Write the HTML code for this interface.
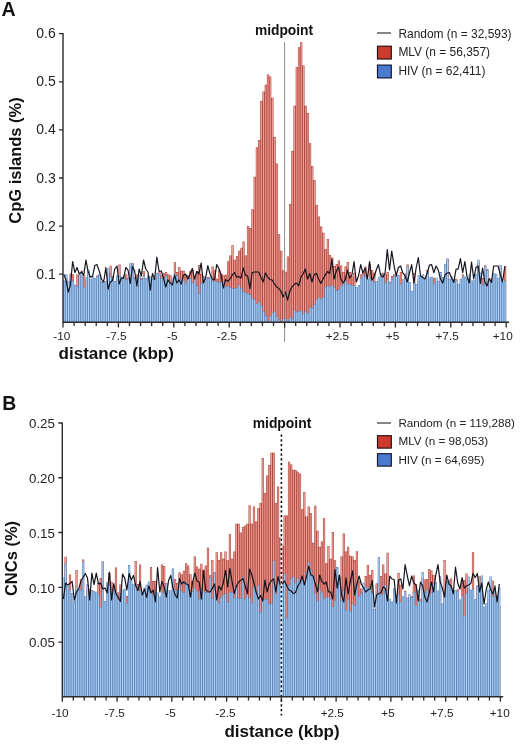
<!DOCTYPE html>
<html><head><meta charset="utf-8"><title>Figure</title>
<style>html,body{margin:0;padding:0;background:#fff}body{width:520px;height:746px;overflow:hidden;font-family:"Liberation Sans",sans-serif}</style></head>
<body>
<svg width="520" height="746" viewBox="0 0 520 746" style="display:block;will-change:transform;font-family:'Liberation Sans',sans-serif">
<path d="M63 322.3V281.09H65.22V278.11H67.43V283.1H69.65V273.4H71.86V274.2H74.08V291.68H76.3V274.2H78.51V275.15H80.73V270.8H82.94V275.16H85.16V280.36H87.38V272.7H89.59V285.66H91.81V278.18H94.02V280.24H96.24V275.56H98.46V275.04H100.67V281.48H102.89V283.77H105.1V283.26H107.32V272.87H109.54V265.69H111.75V275.91H113.97V283.94H116.18V277.45H118.4V264.58H120.62V282.58H122.83V277.09H125.05V274.15H127.26V277.83H129.48V264.57H131.7V263.32H133.91V276.9H136.13V274.51H138.34V276.66H140.56V278.31H142.78V271.34H144.99V277.96H147.21V276.46H149.42V277.71H151.64V284.64H153.86V277.88H156.07V274.2H158.29V272.14H160.5V275.16H162.72V273.16H164.94V271.99H167.15V274.2H169.37V275.18H171.58V280.49H173.8V262.18H176.02V271.99H178.23V266.99H180.45V270.83H182.66V270.83H184.88V274.68H187.1V275.16H189.31V270.91H191.53V269.87H193.74V277.25H195.96V270.98H198.18V265.06H200.39V274.09H202.61V276.12H204.82V285.24H207.04V277.09H209.26V279.65H211.47V266.55H213.69V270.13H215.9V278.76H218.12V269.87H220.34V273.61H222.55V275.16H224.77V274.68H226.98V261.21H229.2V255.44H231.42V245.34H233.63V259.77H235.85V255.92H238.06V250.63H240.28V247.75H242.5V241.49H244.71V255.44H246.93V226.1H249.14V228.02H251.36V209.27H253.58V176.8H255.79V147.22H258.01V140H260.22V101.04H262.44V91.42H264.66V84.69H266.87V74.59H269.09V76.51H271.3V97.67H273.52V137.12H275.74V163.57H277.95V234.28H280.17V250.63H282.38V270.35H284.6V271.8H286.82V256.4H289.03V203.97H291.25V151.06H293.46V105.85H295.68V66.89H297.9V47.17H300.11V42.36H302.33V65.45H304.54V105.85H306.76V113.07H308.98V143.37H311.19V165.97H313.41V179.92H315.62V204.94H317.84V216.48H320.06V226.58H322.27V232.83H324.49V249.19H326.7V239.09H328.92V254.96H331.14V257.51H333.35V266.02H335.57V264.1H337.78V260.49H340V265.54H342.22V271.99H344.43V266.5H346.65V261.98H348.86V271.99H351.08V276.61H353.3V272.76H355.51V288.63H357.73V293.76H359.94V274.39H362.16V271.47H364.38V266.5H366.59V280.75H368.81V264.1H371.02V270.02H373.24V272.76H375.46V283.31H377.67V280.4H379.89V274.2H382.1V272.64H384.32V274.2H386.54V271.99H388.75V281.8H390.97V275.95H393.18V274.16H395.4V284.81H397.62V279.52H399.83V271.99H402.05V282.87H404.26V273.39H406.48V264.54H408.7V286.07H410.91V293.44H413.13V273H415.34V286.26H417.56V280.22H419.78V277.41H421.99V279.26H424.21V284.34H426.42V269.76H428.64V278.5H430.86V277.9H433.07V278.05H435.29V280.9H437.5V285.11H439.72V272.18H441.94V279.65H444.15V265.78H446.37V259.08H448.58V280.12H450.8V281.2H453.02V285.13H455.23V278.65H457.45V286.85H459.66V283.16H461.88V274.39H464.1V279.33H466.31V281.27H468.53V277.89H470.74V287.18H472.96V287.55H475.18V274.47H477.39V262.61H479.61V277.33H481.82V278.05H484.04V265.53H486.26V269.34H488.47V289.46H490.69V278.2H492.9V279.99H495.12V277.46H497.34V282.27H499.55V268.23H501.77V288.11H503.98V266.02H506.2V322.3Z" fill="#ab4a41"/><g fill="#f49d95"><rect x="63.55" y="281.64" width="1.12" height="40.66"/><rect x="65.77" y="278.66" width="1.12" height="43.64"/><rect x="67.98" y="283.65" width="1.12" height="38.65"/><rect x="70.2" y="273.95" width="1.12" height="48.35"/><rect x="72.41" y="274.75" width="1.12" height="47.55"/><rect x="74.63" y="292.23" width="1.12" height="30.07"/><rect x="76.85" y="274.75" width="1.12" height="47.55"/><rect x="79.06" y="275.7" width="1.12" height="46.6"/><rect x="81.28" y="271.35" width="1.12" height="50.95"/><rect x="83.49" y="275.71" width="1.12" height="46.59"/><rect x="85.71" y="280.91" width="1.12" height="41.39"/><rect x="87.93" y="273.25" width="1.12" height="49.05"/><rect x="90.14" y="286.21" width="1.12" height="36.09"/><rect x="92.36" y="278.73" width="1.12" height="43.57"/><rect x="94.57" y="280.79" width="1.12" height="41.51"/><rect x="96.79" y="276.11" width="1.12" height="46.19"/><rect x="99.01" y="275.59" width="1.12" height="46.71"/><rect x="101.22" y="282.03" width="1.12" height="40.27"/><rect x="103.44" y="284.32" width="1.12" height="37.98"/><rect x="105.65" y="283.81" width="1.12" height="38.49"/><rect x="107.87" y="273.42" width="1.12" height="48.88"/><rect x="110.09" y="266.24" width="1.12" height="56.06"/><rect x="112.3" y="276.46" width="1.12" height="45.84"/><rect x="114.52" y="284.49" width="1.12" height="37.81"/><rect x="116.73" y="278" width="1.12" height="44.3"/><rect x="118.95" y="265.13" width="1.12" height="57.17"/><rect x="121.17" y="283.13" width="1.12" height="39.17"/><rect x="123.38" y="277.64" width="1.12" height="44.66"/><rect x="125.6" y="274.7" width="1.12" height="47.6"/><rect x="127.81" y="278.38" width="1.12" height="43.92"/><rect x="130.03" y="265.12" width="1.12" height="57.18"/><rect x="132.25" y="263.87" width="1.12" height="58.43"/><rect x="134.46" y="277.45" width="1.12" height="44.85"/><rect x="136.68" y="275.06" width="1.12" height="47.24"/><rect x="138.89" y="277.21" width="1.12" height="45.09"/><rect x="141.11" y="278.86" width="1.12" height="43.44"/><rect x="143.33" y="271.89" width="1.12" height="50.41"/><rect x="145.54" y="278.51" width="1.12" height="43.79"/><rect x="147.76" y="277.01" width="1.12" height="45.29"/><rect x="149.97" y="278.26" width="1.12" height="44.04"/><rect x="152.19" y="285.19" width="1.12" height="37.11"/><rect x="154.41" y="278.43" width="1.12" height="43.87"/><rect x="156.62" y="274.75" width="1.12" height="47.55"/><rect x="158.84" y="272.69" width="1.12" height="49.61"/><rect x="161.05" y="275.71" width="1.12" height="46.59"/><rect x="163.27" y="273.71" width="1.12" height="48.59"/><rect x="165.49" y="272.54" width="1.12" height="49.76"/><rect x="167.7" y="274.75" width="1.12" height="47.55"/><rect x="169.92" y="275.73" width="1.12" height="46.57"/><rect x="172.13" y="281.04" width="1.12" height="41.26"/><rect x="174.35" y="262.73" width="1.12" height="59.58"/><rect x="176.57" y="272.54" width="1.12" height="49.76"/><rect x="178.78" y="267.54" width="1.12" height="54.77"/><rect x="181" y="271.38" width="1.12" height="50.92"/><rect x="183.21" y="271.38" width="1.12" height="50.92"/><rect x="185.43" y="275.23" width="1.12" height="47.07"/><rect x="187.65" y="275.71" width="1.12" height="46.59"/><rect x="189.86" y="271.46" width="1.12" height="50.84"/><rect x="192.08" y="270.42" width="1.12" height="51.88"/><rect x="194.29" y="277.8" width="1.12" height="44.5"/><rect x="196.51" y="271.53" width="1.12" height="50.77"/><rect x="198.73" y="265.61" width="1.12" height="56.69"/><rect x="200.94" y="274.64" width="1.12" height="47.66"/><rect x="203.16" y="276.67" width="1.12" height="45.63"/><rect x="205.37" y="285.79" width="1.12" height="36.51"/><rect x="207.59" y="277.64" width="1.12" height="44.66"/><rect x="209.81" y="280.2" width="1.12" height="42.1"/><rect x="212.02" y="267.1" width="1.12" height="55.2"/><rect x="214.24" y="270.68" width="1.12" height="51.62"/><rect x="216.45" y="279.31" width="1.12" height="42.99"/><rect x="218.67" y="270.42" width="1.12" height="51.88"/><rect x="220.89" y="274.16" width="1.12" height="48.14"/><rect x="223.1" y="275.71" width="1.12" height="46.59"/><rect x="225.32" y="275.23" width="1.12" height="47.07"/><rect x="227.53" y="261.76" width="1.12" height="60.54"/><rect x="229.75" y="255.99" width="1.12" height="66.31"/><rect x="231.97" y="245.89" width="1.12" height="76.41"/><rect x="234.18" y="260.32" width="1.12" height="61.98"/><rect x="236.4" y="256.47" width="1.12" height="65.83"/><rect x="238.61" y="251.18" width="1.12" height="71.12"/><rect x="240.83" y="248.3" width="1.12" height="74"/><rect x="243.05" y="242.04" width="1.12" height="80.26"/><rect x="245.26" y="255.99" width="1.12" height="66.31"/><rect x="247.48" y="226.65" width="1.12" height="95.65"/><rect x="249.69" y="228.57" width="1.12" height="93.73"/><rect x="251.91" y="209.82" width="1.12" height="112.48"/><rect x="254.13" y="177.35" width="1.12" height="144.95"/><rect x="256.34" y="147.77" width="1.12" height="174.53"/><rect x="258.56" y="140.55" width="1.12" height="181.75"/><rect x="260.77" y="101.59" width="1.12" height="220.71"/><rect x="262.99" y="91.97" width="1.12" height="230.33"/><rect x="265.21" y="85.24" width="1.12" height="237.06"/><rect x="267.42" y="75.14" width="1.12" height="247.16"/><rect x="269.64" y="77.06" width="1.12" height="245.24"/><rect x="271.85" y="98.22" width="1.12" height="224.08"/><rect x="274.07" y="137.67" width="1.12" height="184.63"/><rect x="276.29" y="164.12" width="1.12" height="158.18"/><rect x="278.5" y="234.83" width="1.12" height="87.47"/><rect x="280.72" y="251.18" width="1.12" height="71.12"/><rect x="282.93" y="270.9" width="1.12" height="51.4"/><rect x="285.15" y="272.35" width="1.12" height="49.95"/><rect x="287.37" y="256.95" width="1.12" height="65.35"/><rect x="289.58" y="204.52" width="1.12" height="117.78"/><rect x="291.8" y="151.61" width="1.12" height="170.69"/><rect x="294.01" y="106.4" width="1.12" height="215.9"/><rect x="296.23" y="67.44" width="1.12" height="254.86"/><rect x="298.45" y="47.72" width="1.12" height="274.58"/><rect x="300.66" y="42.91" width="1.12" height="279.39"/><rect x="302.88" y="66" width="1.12" height="256.3"/><rect x="305.09" y="106.4" width="1.12" height="215.9"/><rect x="307.31" y="113.62" width="1.12" height="208.68"/><rect x="309.53" y="143.92" width="1.12" height="178.38"/><rect x="311.74" y="166.53" width="1.12" height="155.78"/><rect x="313.96" y="180.47" width="1.12" height="141.83"/><rect x="316.17" y="205.49" width="1.12" height="116.81"/><rect x="318.39" y="217.03" width="1.12" height="105.27"/><rect x="320.61" y="227.13" width="1.12" height="95.17"/><rect x="322.82" y="233.38" width="1.12" height="88.92"/><rect x="325.04" y="249.74" width="1.12" height="72.56"/><rect x="327.25" y="239.64" width="1.12" height="82.66"/><rect x="329.47" y="255.51" width="1.12" height="66.79"/><rect x="331.69" y="258.06" width="1.12" height="64.24"/><rect x="333.9" y="266.57" width="1.12" height="55.73"/><rect x="336.12" y="264.65" width="1.12" height="57.65"/><rect x="338.33" y="261.04" width="1.12" height="61.26"/><rect x="340.55" y="266.09" width="1.12" height="56.21"/><rect x="342.77" y="272.54" width="1.12" height="49.76"/><rect x="344.98" y="267.05" width="1.12" height="55.25"/><rect x="347.2" y="262.53" width="1.12" height="59.77"/><rect x="349.41" y="272.54" width="1.12" height="49.76"/><rect x="351.63" y="277.16" width="1.12" height="45.15"/><rect x="353.85" y="273.31" width="1.12" height="48.99"/><rect x="356.06" y="289.18" width="1.12" height="33.12"/><rect x="358.28" y="294.31" width="1.12" height="27.99"/><rect x="360.49" y="274.94" width="1.12" height="47.36"/><rect x="362.71" y="272.02" width="1.12" height="50.28"/><rect x="364.93" y="267.05" width="1.12" height="55.25"/><rect x="367.14" y="281.3" width="1.12" height="41"/><rect x="369.36" y="264.65" width="1.12" height="57.65"/><rect x="371.57" y="270.57" width="1.12" height="51.73"/><rect x="373.79" y="273.31" width="1.12" height="48.99"/><rect x="376.01" y="283.86" width="1.12" height="38.44"/><rect x="378.22" y="280.95" width="1.12" height="41.35"/><rect x="380.44" y="274.75" width="1.12" height="47.55"/><rect x="382.65" y="273.19" width="1.12" height="49.11"/><rect x="384.87" y="274.75" width="1.12" height="47.55"/><rect x="387.09" y="272.54" width="1.12" height="49.76"/><rect x="389.3" y="282.35" width="1.12" height="39.95"/><rect x="391.52" y="276.5" width="1.12" height="45.8"/><rect x="393.73" y="274.71" width="1.12" height="47.59"/><rect x="395.95" y="285.36" width="1.12" height="36.94"/><rect x="398.17" y="280.07" width="1.12" height="42.23"/><rect x="400.38" y="272.54" width="1.12" height="49.76"/><rect x="402.6" y="283.42" width="1.12" height="38.88"/><rect x="404.81" y="273.94" width="1.12" height="48.36"/><rect x="407.03" y="265.09" width="1.12" height="57.21"/><rect x="409.25" y="286.62" width="1.12" height="35.68"/><rect x="411.46" y="293.99" width="1.12" height="28.31"/><rect x="413.68" y="273.55" width="1.12" height="48.75"/><rect x="415.89" y="286.81" width="1.12" height="35.49"/><rect x="418.11" y="280.77" width="1.12" height="41.53"/><rect x="420.33" y="277.96" width="1.12" height="44.34"/><rect x="422.54" y="279.81" width="1.12" height="42.49"/><rect x="424.76" y="284.89" width="1.12" height="37.41"/><rect x="426.97" y="270.31" width="1.12" height="51.99"/><rect x="429.19" y="279.05" width="1.12" height="43.25"/><rect x="431.41" y="278.45" width="1.12" height="43.85"/><rect x="433.62" y="278.6" width="1.12" height="43.7"/><rect x="435.84" y="281.45" width="1.12" height="40.85"/><rect x="438.05" y="285.66" width="1.12" height="36.64"/><rect x="440.27" y="272.73" width="1.12" height="49.57"/><rect x="442.49" y="280.2" width="1.12" height="42.1"/><rect x="444.7" y="266.33" width="1.12" height="55.97"/><rect x="446.92" y="259.63" width="1.12" height="62.67"/><rect x="449.13" y="280.67" width="1.12" height="41.63"/><rect x="451.35" y="281.75" width="1.12" height="40.55"/><rect x="453.57" y="285.68" width="1.12" height="36.62"/><rect x="455.78" y="279.2" width="1.12" height="43.1"/><rect x="458" y="287.4" width="1.12" height="34.9"/><rect x="460.21" y="283.71" width="1.12" height="38.59"/><rect x="462.43" y="274.94" width="1.12" height="47.36"/><rect x="464.65" y="279.88" width="1.12" height="42.42"/><rect x="466.86" y="281.82" width="1.12" height="40.48"/><rect x="469.08" y="278.44" width="1.12" height="43.86"/><rect x="471.29" y="287.73" width="1.12" height="34.57"/><rect x="473.51" y="288.1" width="1.12" height="34.2"/><rect x="475.73" y="275.02" width="1.12" height="47.28"/><rect x="477.94" y="263.16" width="1.12" height="59.14"/><rect x="480.16" y="277.88" width="1.12" height="44.42"/><rect x="482.37" y="278.6" width="1.12" height="43.7"/><rect x="484.59" y="266.08" width="1.12" height="56.22"/><rect x="486.81" y="269.89" width="1.12" height="52.41"/><rect x="489.02" y="290.01" width="1.12" height="32.29"/><rect x="491.24" y="278.75" width="1.12" height="43.55"/><rect x="493.45" y="280.54" width="1.12" height="41.76"/><rect x="495.67" y="278.01" width="1.12" height="44.29"/><rect x="497.89" y="282.82" width="1.12" height="39.48"/><rect x="500.1" y="268.78" width="1.12" height="53.52"/><rect x="502.32" y="288.66" width="1.12" height="33.64"/><rect x="504.53" y="266.57" width="1.12" height="55.73"/></g>
<path d="M63 322.3V280.62H65.22V274.21H67.43V280.92H69.65V275.71H71.86V280.6H74.08V284.78H76.3V286.23H78.51V275.05H80.73V272.66H82.94V287.19H85.16V277.38H87.38V269.67H89.59V279.35H91.81V276.81H94.02V278.08H96.24V276.3H98.46V273.92H100.67V282.25H102.89V281.18H105.1V281.34H107.32V267.95H109.54V276.47H111.75V277.23H113.97V280.91H116.18V275.17H118.4V276.02H120.62V276.79H122.83V275.46H125.05V279.43H127.26V278.54H129.48V262.66H131.7V265.06H133.91V278.82H136.13V277.44H138.34V275.28H140.56V279.34H142.78V275.73H144.99V278.17H147.21V275.62H149.42V276.48H151.64V278.81H153.86V278.23H156.07V272.72H158.29V274.27H160.5V278.21H162.72V278.44H164.94V275.33H167.15V281.4H169.37V282.46H171.58V277.65H173.8V273.43H176.02V275.33H178.23V279.94H180.45V278.28H182.66V280.09H184.88V283H187.1V277.23H189.31V278.41H191.53V282.65H193.74V278.16H195.96V285.62H198.18V293.44H200.39V283.07H202.61V275.98H204.82V278.58H207.04V278.13H209.26V276.64H211.47V281.05H213.69V280.04H215.9V281.53H218.12V282.58H220.34V281.58H222.55V282.9H224.77V286.69H226.98V285.81H229.2V287.11H231.42V288.44H233.63V288.26H235.85V287.67H238.06V284.13H240.28V288.03H242.5V291.52H244.71V292.43H246.93V293.54H249.14V294.49H251.36V297.98H253.58V299.71H255.79V303.42H258.01V301.23H260.22V305.05H262.44V311.01H264.66V315.78H266.87V321.2H269.09V315.8H271.3V312.38H273.52V311.46H275.74V316.17H277.95V319.57H280.17V321.34H282.38V318.34H284.6V318.66H286.82V320.45H289.03V317.07H291.25V318.85H293.46V309.94H295.68V311.79H297.9V311.01H300.11V310.53H302.33V313.68H304.54V311.1H306.76V313.48H308.98V307.25H311.19V308.07H313.41V304.37H315.62V299.38H317.84V296.84H320.06V298.75H322.27V297.1H324.49V286.88H326.7V285.48H328.92V286.69H331.14V284.82H333.35V287.23H335.57V290.35H337.78V289.13H340V285.86H342.22V284.75H344.43V280.85H346.65V283.94H348.86V284.02H351.08V285.24H353.3V285.68H355.51V287.19H357.73V284.99H359.94V278H362.16V274.67H364.38V276.36H366.59V279.16H368.81V278.17H371.02V280.29H373.24V281.97H375.46V281.37H377.67V276.65H379.89V272.96H382.1V275.4H384.32V282.86H386.54V279.45H388.75V282.77H390.97V279.07H393.18V276.11H395.4V274.88H397.62V275.01H399.83V283.82H402.05V279.27H404.26V274.87H406.48V266.5H408.7V281.88H410.91V291.04H413.13V282.86H415.34V283.94H417.56V275.35H419.78V276.38H421.99V274.18H424.21V279.48H426.42V272.03H428.64V277.44H430.86V276.76H433.07V283.82H435.29V277.69H437.5V280.71H439.72V272.32H441.94V276.9H444.15V264.1H446.37V258.52H448.58V278.95H450.8V276.39H453.02V279.36H455.23V280.15H457.45V283.9H459.66V278.85H461.88V276.8H464.1V276.87H466.31V278.85H468.53V274.45H470.74V280.39H472.96V280.28H475.18V273.91H477.39V259.77H479.61V272.87H481.82V284.78H484.04V266.5H486.26V270.5H488.47V281.55H490.69V279.76H492.9V273.35H495.12V274.06H497.34V278.22H499.55V265.06H501.77V282.33H503.98V280.65H506.2V322.3Z" fill="#5e87b8"/><g fill="#add1f8"><rect x="63.55" y="281.17" width="1.12" height="41.13"/><rect x="65.77" y="274.76" width="1.12" height="47.54"/><rect x="67.98" y="281.47" width="1.12" height="40.83"/><rect x="70.2" y="276.26" width="1.12" height="46.04"/><rect x="72.41" y="281.15" width="1.12" height="41.15"/><rect x="74.63" y="285.33" width="1.12" height="36.97"/><rect x="76.85" y="286.78" width="1.12" height="35.52"/><rect x="79.06" y="275.6" width="1.12" height="46.7"/><rect x="81.28" y="273.21" width="1.12" height="49.09"/><rect x="83.49" y="287.74" width="1.12" height="34.56"/><rect x="85.71" y="277.93" width="1.12" height="44.37"/><rect x="87.93" y="270.22" width="1.12" height="52.08"/><rect x="90.14" y="279.9" width="1.12" height="42.4"/><rect x="92.36" y="277.36" width="1.12" height="44.94"/><rect x="94.57" y="278.63" width="1.12" height="43.67"/><rect x="96.79" y="276.85" width="1.12" height="45.45"/><rect x="99.01" y="274.47" width="1.12" height="47.83"/><rect x="101.22" y="282.8" width="1.12" height="39.5"/><rect x="103.44" y="281.73" width="1.12" height="40.57"/><rect x="105.65" y="281.89" width="1.12" height="40.41"/><rect x="107.87" y="268.5" width="1.12" height="53.8"/><rect x="110.09" y="277.02" width="1.12" height="45.28"/><rect x="112.3" y="277.78" width="1.12" height="44.52"/><rect x="114.52" y="281.46" width="1.12" height="40.84"/><rect x="116.73" y="275.72" width="1.12" height="46.58"/><rect x="118.95" y="276.57" width="1.12" height="45.73"/><rect x="121.17" y="277.34" width="1.12" height="44.96"/><rect x="123.38" y="276.01" width="1.12" height="46.29"/><rect x="125.6" y="279.98" width="1.12" height="42.32"/><rect x="127.81" y="279.09" width="1.12" height="43.21"/><rect x="130.03" y="263.21" width="1.12" height="59.09"/><rect x="132.25" y="265.61" width="1.12" height="56.69"/><rect x="134.46" y="279.37" width="1.12" height="42.93"/><rect x="136.68" y="277.99" width="1.12" height="44.31"/><rect x="138.89" y="275.83" width="1.12" height="46.47"/><rect x="141.11" y="279.89" width="1.12" height="42.41"/><rect x="143.33" y="276.28" width="1.12" height="46.02"/><rect x="145.54" y="278.72" width="1.12" height="43.58"/><rect x="147.76" y="276.17" width="1.12" height="46.13"/><rect x="149.97" y="277.03" width="1.12" height="45.27"/><rect x="152.19" y="279.36" width="1.12" height="42.94"/><rect x="154.41" y="278.78" width="1.12" height="43.52"/><rect x="156.62" y="273.27" width="1.12" height="49.03"/><rect x="158.84" y="274.82" width="1.12" height="47.48"/><rect x="161.05" y="278.76" width="1.12" height="43.54"/><rect x="163.27" y="278.99" width="1.12" height="43.31"/><rect x="165.49" y="275.88" width="1.12" height="46.42"/><rect x="167.7" y="281.95" width="1.12" height="40.35"/><rect x="169.92" y="283.01" width="1.12" height="39.29"/><rect x="172.13" y="278.2" width="1.12" height="44.1"/><rect x="174.35" y="273.98" width="1.12" height="48.32"/><rect x="176.57" y="275.88" width="1.12" height="46.42"/><rect x="178.78" y="280.49" width="1.12" height="41.81"/><rect x="181" y="278.83" width="1.12" height="43.47"/><rect x="183.21" y="280.64" width="1.12" height="41.66"/><rect x="185.43" y="283.55" width="1.12" height="38.75"/><rect x="187.65" y="277.78" width="1.12" height="44.52"/><rect x="189.86" y="278.96" width="1.12" height="43.34"/><rect x="192.08" y="283.2" width="1.12" height="39.1"/><rect x="194.29" y="278.71" width="1.12" height="43.59"/><rect x="196.51" y="286.17" width="1.12" height="36.13"/><rect x="198.73" y="293.99" width="1.12" height="28.31"/><rect x="200.94" y="283.62" width="1.12" height="38.68"/><rect x="203.16" y="276.53" width="1.12" height="45.77"/><rect x="205.37" y="279.13" width="1.12" height="43.17"/><rect x="207.59" y="278.68" width="1.12" height="43.62"/><rect x="209.81" y="277.19" width="1.12" height="45.11"/><rect x="212.02" y="281.6" width="1.12" height="40.7"/><rect x="214.24" y="280.59" width="1.12" height="41.71"/><rect x="216.45" y="282.08" width="1.12" height="40.22"/><rect x="218.67" y="283.13" width="1.12" height="39.17"/><rect x="220.89" y="282.13" width="1.12" height="40.17"/><rect x="223.1" y="283.45" width="1.12" height="38.85"/><rect x="225.32" y="287.24" width="1.12" height="35.06"/><rect x="227.53" y="286.36" width="1.12" height="35.94"/><rect x="229.75" y="287.66" width="1.12" height="34.64"/><rect x="231.97" y="288.99" width="1.12" height="33.31"/><rect x="234.18" y="288.81" width="1.12" height="33.49"/><rect x="236.4" y="288.22" width="1.12" height="34.08"/><rect x="238.61" y="284.68" width="1.12" height="37.62"/><rect x="240.83" y="288.58" width="1.12" height="33.72"/><rect x="243.05" y="292.07" width="1.12" height="30.23"/><rect x="245.26" y="292.98" width="1.12" height="29.32"/><rect x="247.48" y="294.09" width="1.12" height="28.21"/><rect x="249.69" y="295.04" width="1.12" height="27.26"/><rect x="251.91" y="298.53" width="1.12" height="23.77"/><rect x="254.13" y="300.26" width="1.12" height="22.04"/><rect x="256.34" y="303.97" width="1.12" height="18.33"/><rect x="258.56" y="301.78" width="1.12" height="20.52"/><rect x="260.77" y="305.6" width="1.12" height="16.7"/><rect x="262.99" y="311.56" width="1.12" height="10.74"/><rect x="265.21" y="316.33" width="1.12" height="5.97"/><rect x="267.42" y="321.75" width="1.12" height="0.55"/><rect x="269.64" y="316.35" width="1.12" height="5.95"/><rect x="271.85" y="312.93" width="1.12" height="9.37"/><rect x="274.07" y="312.01" width="1.12" height="10.29"/><rect x="276.29" y="316.72" width="1.12" height="5.58"/><rect x="278.5" y="320.12" width="1.12" height="2.18"/><rect x="280.72" y="321.89" width="1.12" height="0.41"/><rect x="282.93" y="318.89" width="1.12" height="3.41"/><rect x="285.15" y="319.21" width="1.12" height="3.09"/><rect x="287.37" y="321" width="1.12" height="1.3"/><rect x="289.58" y="317.62" width="1.12" height="4.68"/><rect x="291.8" y="319.4" width="1.12" height="2.9"/><rect x="294.01" y="310.49" width="1.12" height="11.81"/><rect x="296.23" y="312.34" width="1.12" height="9.96"/><rect x="298.45" y="311.56" width="1.12" height="10.74"/><rect x="300.66" y="311.08" width="1.12" height="11.22"/><rect x="302.88" y="314.23" width="1.12" height="8.07"/><rect x="305.09" y="311.65" width="1.12" height="10.65"/><rect x="307.31" y="314.03" width="1.12" height="8.27"/><rect x="309.53" y="307.8" width="1.12" height="14.5"/><rect x="311.74" y="308.62" width="1.12" height="13.68"/><rect x="313.96" y="304.92" width="1.12" height="17.38"/><rect x="316.17" y="299.93" width="1.12" height="22.37"/><rect x="318.39" y="297.39" width="1.12" height="24.91"/><rect x="320.61" y="299.3" width="1.12" height="23"/><rect x="322.82" y="297.65" width="1.12" height="24.65"/><rect x="325.04" y="287.43" width="1.12" height="34.87"/><rect x="327.25" y="286.03" width="1.12" height="36.27"/><rect x="329.47" y="287.24" width="1.12" height="35.06"/><rect x="331.69" y="285.37" width="1.12" height="36.93"/><rect x="333.9" y="287.78" width="1.12" height="34.52"/><rect x="336.12" y="290.9" width="1.12" height="31.4"/><rect x="338.33" y="289.68" width="1.12" height="32.62"/><rect x="340.55" y="286.41" width="1.12" height="35.89"/><rect x="342.77" y="285.3" width="1.12" height="37"/><rect x="344.98" y="281.4" width="1.12" height="40.9"/><rect x="347.2" y="284.49" width="1.12" height="37.81"/><rect x="349.41" y="284.57" width="1.12" height="37.73"/><rect x="351.63" y="285.79" width="1.12" height="36.51"/><rect x="353.85" y="286.23" width="1.12" height="36.07"/><rect x="356.06" y="287.74" width="1.12" height="34.56"/><rect x="358.28" y="285.54" width="1.12" height="36.76"/><rect x="360.49" y="278.55" width="1.12" height="43.75"/><rect x="362.71" y="275.22" width="1.12" height="47.08"/><rect x="364.93" y="276.91" width="1.12" height="45.39"/><rect x="367.14" y="279.71" width="1.12" height="42.59"/><rect x="369.36" y="278.72" width="1.12" height="43.58"/><rect x="371.57" y="280.84" width="1.12" height="41.46"/><rect x="373.79" y="282.52" width="1.12" height="39.78"/><rect x="376.01" y="281.92" width="1.12" height="40.38"/><rect x="378.22" y="277.2" width="1.12" height="45.1"/><rect x="380.44" y="273.51" width="1.12" height="48.79"/><rect x="382.65" y="275.95" width="1.12" height="46.35"/><rect x="384.87" y="283.41" width="1.12" height="38.89"/><rect x="387.09" y="280" width="1.12" height="42.3"/><rect x="389.3" y="283.32" width="1.12" height="38.98"/><rect x="391.52" y="279.62" width="1.12" height="42.68"/><rect x="393.73" y="276.66" width="1.12" height="45.64"/><rect x="395.95" y="275.43" width="1.12" height="46.87"/><rect x="398.17" y="275.56" width="1.12" height="46.74"/><rect x="400.38" y="284.37" width="1.12" height="37.93"/><rect x="402.6" y="279.82" width="1.12" height="42.48"/><rect x="404.81" y="275.42" width="1.12" height="46.88"/><rect x="407.03" y="267.05" width="1.12" height="55.25"/><rect x="409.25" y="282.43" width="1.12" height="39.87"/><rect x="411.46" y="291.59" width="1.12" height="30.71"/><rect x="413.68" y="283.41" width="1.12" height="38.89"/><rect x="415.89" y="284.49" width="1.12" height="37.81"/><rect x="418.11" y="275.9" width="1.12" height="46.4"/><rect x="420.33" y="276.93" width="1.12" height="45.37"/><rect x="422.54" y="274.73" width="1.12" height="47.57"/><rect x="424.76" y="280.03" width="1.12" height="42.27"/><rect x="426.97" y="272.58" width="1.12" height="49.72"/><rect x="429.19" y="277.99" width="1.12" height="44.31"/><rect x="431.41" y="277.31" width="1.12" height="44.99"/><rect x="433.62" y="284.37" width="1.12" height="37.93"/><rect x="435.84" y="278.24" width="1.12" height="44.06"/><rect x="438.05" y="281.26" width="1.12" height="41.04"/><rect x="440.27" y="272.87" width="1.12" height="49.43"/><rect x="442.49" y="277.45" width="1.12" height="44.85"/><rect x="444.7" y="264.65" width="1.12" height="57.65"/><rect x="446.92" y="259.07" width="1.12" height="63.23"/><rect x="449.13" y="279.5" width="1.12" height="42.8"/><rect x="451.35" y="276.94" width="1.12" height="45.36"/><rect x="453.57" y="279.91" width="1.12" height="42.39"/><rect x="455.78" y="280.7" width="1.12" height="41.6"/><rect x="458" y="284.45" width="1.12" height="37.85"/><rect x="460.21" y="279.4" width="1.12" height="42.9"/><rect x="462.43" y="277.35" width="1.12" height="44.95"/><rect x="464.65" y="277.42" width="1.12" height="44.88"/><rect x="466.86" y="279.4" width="1.12" height="42.9"/><rect x="469.08" y="275" width="1.12" height="47.3"/><rect x="471.29" y="280.94" width="1.12" height="41.36"/><rect x="473.51" y="280.83" width="1.12" height="41.47"/><rect x="475.73" y="274.46" width="1.12" height="47.84"/><rect x="477.94" y="260.32" width="1.12" height="61.98"/><rect x="480.16" y="273.42" width="1.12" height="48.88"/><rect x="482.37" y="285.33" width="1.12" height="36.97"/><rect x="484.59" y="267.05" width="1.12" height="55.25"/><rect x="486.81" y="271.05" width="1.12" height="51.25"/><rect x="489.02" y="282.1" width="1.12" height="40.2"/><rect x="491.24" y="280.31" width="1.12" height="41.99"/><rect x="493.45" y="273.9" width="1.12" height="48.4"/><rect x="495.67" y="274.61" width="1.12" height="47.69"/><rect x="497.89" y="278.77" width="1.12" height="43.53"/><rect x="500.1" y="265.61" width="1.12" height="56.69"/><rect x="502.32" y="282.88" width="1.12" height="39.42"/><rect x="504.53" y="281.2" width="1.12" height="41.1"/></g>
<polyline points="63.78,274.2 65.99,279.97 68.21,292 70.42,285.02 72.64,261.5 74.86,272.52 77.07,267.47 79.29,274.01 81.5,271.99 83.72,275.16 85.94,260.01 88.15,271.8 90.37,277.09 92.58,276.12 94.8,265.54 97.02,264.58 99.23,270.83 101.45,279.01 103.66,281.99 105.88,267.47 108.1,289.11 110.31,281.99 112.53,280.45 114.74,269.01 116.96,266.02 119.18,284.01 121.39,278.05 123.61,278.05 125.82,267.47 128.04,270.02 130.26,283.48 132.47,266.5 134.69,270.98 136.9,285.98 139.12,269.01 141.34,275.98 143.55,260.01 145.77,269.01 147.98,271.99 150.2,290.07 152.42,273.48 154.63,279.49 156.85,256.98 159.06,271.51 161.28,270.98 163.5,278.05 165.71,286.99 167.93,279.97 170.14,283 172.36,285.02 174.58,275.16 176.79,283 179.01,279.97 181.22,284.01 183.44,275.16 185.66,274.01 187.87,279.01 190.09,274.01 192.3,268.43 194.52,279.01 196.74,271.51 198.95,274.01 201.17,262.99 203.38,283 205.6,278.05 207.82,265.54 210.03,274.01 212.25,279.01 214.46,279.97 216.68,264.58 218.9,268.43 221.11,275.16 223.33,288 225.54,279.49 227.76,281.42 229.98,279.01 232.19,275.16 234.41,272.52 236.62,277.09 238.84,276.61 241.06,278.05 243.27,267.95 245.49,275.16 247.7,276.12 249.92,288.63 252.14,272.52 254.35,271.99 256.57,271.99 258.78,271.99 261,277.57 263.22,281.99 265.43,273 267.65,277.09 269.86,279.49 272.08,279.97 274.3,283.82 276.51,286.71 278.73,288.39 280.94,291.04 283.16,297 285.38,292 287.59,299.98 289.81,291.04 292.02,286.99 294.24,284.3 296.46,283 298.67,285.98 300.89,277.09 303.1,274.01 305.32,269.01 307.54,279.01 309.75,273.48 311.97,281.99 314.18,274.49 316.4,273.48 318.62,279.01 320.83,283.48 323.05,279.01 325.26,275.16 327.48,271.51 329.7,273.48 331.91,259 334.13,279.01 336.34,270.98 338.56,266.99 340.78,279.01 342.99,283 345.21,279.97 347.42,270.02 349.64,278.05 351.86,275.16 354.07,261.5 356.29,281.99 358.5,275.98 360.72,264.58 362.94,273 365.15,268 367.37,279.01 369.58,261.5 371.8,279.97 374.02,277.09 376.23,270.02 378.45,264.58 380.66,275.16 382.88,277.09 385.1,273 387.31,249.48 389.53,270.02 391.74,251.11 393.96,265.06 396.18,275.98 398.39,267.47 400.61,265.97 402.82,273 405.04,275.98 407.26,281.99 409.47,273 411.69,264.58 413.9,283 416.12,268 418.34,257.51 420.55,275.98 422.77,277.57 424.98,279.01 427.2,273 429.42,265.06 431.63,264.58 433.85,272.52 436.06,266.02 438.28,270.02 440.5,279.01 442.71,283 444.93,275.16 447.14,273 449.36,272.52 451.58,278.05 453.79,282.47 456.01,269.39 458.22,268.91 460.44,258.52 462.66,272.52 464.87,261.5 467.09,277.09 469.3,283 471.52,261.98 473.74,279.01 475.95,267.47 478.17,266.02 480.38,283.48 482.6,268 484.82,281.99 487.03,285.98 489.25,278.53 491.46,282.47 493.68,266.02 495.9,266.02 498.11,266.02 500.33,274.49 502.54,281.99 504.76,266.5" fill="none" stroke="#15151f" stroke-width="1.2" stroke-linejoin="round"/>
<line x1="284.6" y1="42" x2="284.6" y2="342" stroke="#7a7a7a" stroke-width="0.85"/>
<path d="M63.0 33V322.3H509.2" fill="none" stroke="#2b2b2b" stroke-width="1.4"/>
<path d="M63.0 274.2h-4M63.0 226.1h-4M63.0 178h-4M63.0 129.9h-4M63.0 81.8h-4M63.0 33.7h-4M63 322.3v5.2M74.08 322.3v3.6M85.16 322.3v3.6M96.24 322.3v3.6M107.32 322.3v3.6M118.4 322.3v5.2M129.48 322.3v3.6M140.56 322.3v3.6M151.64 322.3v3.6M162.72 322.3v3.6M173.8 322.3v5.2M184.88 322.3v3.6M195.96 322.3v3.6M207.04 322.3v3.6M218.12 322.3v3.6M229.2 322.3v5.2M240.28 322.3v3.6M251.36 322.3v3.6M262.44 322.3v3.6M273.52 322.3v3.6M284.6 322.3v5.2M295.68 322.3v3.6M306.76 322.3v3.6M317.84 322.3v3.6M328.92 322.3v3.6M340 322.3v5.2M351.08 322.3v3.6M362.16 322.3v3.6M373.24 322.3v3.6M384.32 322.3v3.6M395.4 322.3v5.2M406.48 322.3v3.6M417.56 322.3v3.6M428.64 322.3v3.6M439.72 322.3v3.6M450.8 322.3v5.2M461.88 322.3v3.6M472.96 322.3v3.6M484.04 322.3v3.6M495.12 322.3v3.6M506.2 322.3v5.2" stroke="#2b2b2b" stroke-width="1.3" fill="none"/>
<text x="55.7" y="278.7" font-size="14" text-anchor="end" fill="#222">0.1</text>
<text x="55.7" y="230.6" font-size="14" text-anchor="end" fill="#222">0.2</text>
<text x="55.7" y="182.5" font-size="14" text-anchor="end" fill="#222">0.3</text>
<text x="55.7" y="134.4" font-size="14" text-anchor="end" fill="#222">0.4</text>
<text x="55.7" y="86.3" font-size="14" text-anchor="end" fill="#222">0.5</text>
<text x="55.7" y="38.2" font-size="14" text-anchor="end" fill="#222">0.6</text>
<text x="61.8" y="340" font-size="11.8" text-anchor="middle" fill="#222">-10</text>
<text x="116.5" y="340" font-size="11.8" text-anchor="middle" fill="#222">-7.5</text>
<text x="172.3" y="340" font-size="11.8" text-anchor="middle" fill="#222">-5</text>
<text x="226.9" y="340" font-size="11.8" text-anchor="middle" fill="#222">-2.5</text>
<text x="337.4" y="340" font-size="11.8" text-anchor="middle" fill="#222">+2.5</text>
<text x="392.6" y="340" font-size="11.8" text-anchor="middle" fill="#222">+5</text>
<text x="447.1" y="340" font-size="11.8" text-anchor="middle" fill="#222">+7.5</text>
<text x="502.7" y="340" font-size="11.8" text-anchor="middle" fill="#222">+10</text>
<text x="1.6" y="16.2" font-size="19.6" font-weight="bold" fill="#111">A</text>
<text x="284" y="34.8" font-size="13.8" font-weight="bold" text-anchor="middle" fill="#111">midpoint</text>
<text x="58.6" y="359.2" font-size="17" font-weight="bold" fill="#111">distance (kbp)</text>
<text transform="translate(20.8 160.5) rotate(-90)" font-size="16.5" font-weight="bold" text-anchor="middle" fill="#111">CpG islands (%)</text>
<line x1="377" y1="33" x2="391" y2="33" stroke="#222" stroke-width="1.1"/>
<rect x="377.5" y="46.2" width="13.8" height="12.8" fill="#cc3b2e" stroke="#2a1212" stroke-width="1.2"/>
<rect x="377.5" y="65.1" width="13.8" height="12.8" fill="#4a7bd0" stroke="#141a38" stroke-width="1.2"/>
<text x="398.4" y="37.6" font-size="11.95" fill="#222">Random (n = 32,593)</text>
<text x="398.4" y="56.4" font-size="11.95" fill="#222">MLV (n = 56,357)</text>
<text x="398.4" y="75.2" font-size="11.95" fill="#222">HIV (n = 62,411)</text>
<path d="M62.3 696.8V590.58H64.49V556.65H66.68V593.63H68.87V574.47H71.06V594.28H73.25V601.52H75.44V569.98H77.63V606.61H79.82V579.14H82.01V559.41H84.2V606.37H86.4V589.17H88.59V589.21H90.78V590.26H92.97V605.69H95.16V599.26H97.35V582.81H99.54V577.97H101.73V561.82H103.92V606.08H106.11V589.8H108.3V573.04H110.49V581.66H112.68V588.73H114.87V567.57H117.06V592.42H119.25V584.52H121.44V594.64H123.63V601.24H125.82V596.06H128.01V571.78H130.21V584.75H132.4V588.86H134.59V561H136.78V584.12H138.97V564.5H141.16V597.01H143.35V597.32H145.54V593.48H147.73V594.98H149.92V567.02H152.11V581.04H154.3V581.04H156.49V594.34H158.68V597.74H160.87V564.5H163.06V566.03H165.25V583.28H167.44V599.61H169.63V603.21H171.82V570.09H174.02V578.96H176.21V583.01H178.4V572.14H180.59V574.14H182.78V570.85H184.97V563.19H187.16V565.38H189.35V574.14H191.54V580.71H193.73V556.61H195.92V566.47H198.11V568.66H200.3V563.73H202.49V569.76H204.68V565.38H206.87V547.85H209.06V575.23H211.25V559.9H213.44V572.39H215.63V552.23H217.83V559.9H220.02V552.23H222.21V558.8H224.4V551.47H226.59V560.23H228.78V534.16H230.97V558.8H233.16V551.47H235.35V523.76H237.54V523.76H239.73V532.52H241.92V527.04H244.11V525.4H246.3V523.76H248.49V505.14H250.68V523.76H252.87V506.56H255.06V521.57H257.25V507.88H259.44V502.95H261.64V458.05H263.83V493.09H266.02V475.57H268.21V464.95H270.4V452.79H272.59V452.79H274.78V502.95H276.97V486.52H279.16V537.45H281.35V545.66H283.54V515.43H285.73V515.43H287.92V461.66H290.11V464.4H292.3V469.77H294.49V470.09H296.68V471.63H298.87V473.38H301.06V509.19H303.25V492H305.45V516.53H307.64V506.56H309.83V513.35H312.02V542.81H314.21V505.8H316.4V530.77H318.59V546.76H320.78V541.5H322.97V518.28H325.16V563.19H327.35V546.1H329.54V558.8H331.73V532.08H333.92V560.23H336.11V567.02H338.3V577.75H340.49V556.61H342.68V533.62H344.87V551.47H347.06V546.76H349.26V555.74H351.45V556.61H353.64V559.9H355.83V551.14H358.02V580.71H360.21V588.38H362.4V591.66H364.59V576H366.78V565.05H368.97V575.01H371.16V569.98H373.35V609.18H375.54V583.56H377.73V581.8H379.92V576H382.11V564.5H384.3V573.48H386.49V552.67H388.68V606.45H390.87V602.61H393.07V592.06H395.26V611.42H397.45V573.04H399.64V584.72H401.83V597.99H404.02V590.79H406.21V608.23H408.4V622.16H410.59V596.2H412.78V575.45H414.97V583.99H417.16V596.33H419.35V598.7H421.54V577.76H423.73V579.39H425.92V578.96H428.11V568.99H430.3V570.52H432.49V575.01H434.68V604.16H436.88V591.49H439.07V582.5H441.26V603.71H443.45V560.01H445.64V581.38H447.83V580.21H450.02V578.46H452.21V609.85H454.4V604.63H456.59V589.22H458.78V615.89H460.97V580.18H463.16V580.05H465.35V573.48H467.54V588.07H469.73V618.14H471.92V552.23H474.11V600.42H476.3V585.54H478.49V576.33H480.69V585.16H482.88V611.87H485.07V621.54H487.26V598.05H489.45V589.47H491.64V580.79H493.83V589.34H496.02V600.88H498.21V606.12H500.4V696.8Z" fill="#ab4a41"/><g fill="#f49d95"><rect x="62.85" y="591.13" width="1.09" height="105.67"/><rect x="65.04" y="557.2" width="1.09" height="139.6"/><rect x="67.23" y="594.18" width="1.09" height="102.62"/><rect x="69.42" y="575.02" width="1.09" height="121.78"/><rect x="71.61" y="594.83" width="1.09" height="101.97"/><rect x="73.8" y="602.07" width="1.09" height="94.73"/><rect x="75.99" y="570.53" width="1.09" height="126.27"/><rect x="78.18" y="607.16" width="1.09" height="89.64"/><rect x="80.37" y="579.69" width="1.09" height="117.11"/><rect x="82.56" y="559.96" width="1.09" height="136.84"/><rect x="84.75" y="606.92" width="1.09" height="89.88"/><rect x="86.95" y="589.72" width="1.09" height="107.08"/><rect x="89.14" y="589.76" width="1.09" height="107.04"/><rect x="91.33" y="590.81" width="1.09" height="105.99"/><rect x="93.52" y="606.24" width="1.09" height="90.56"/><rect x="95.71" y="599.81" width="1.09" height="96.99"/><rect x="97.9" y="583.36" width="1.09" height="113.44"/><rect x="100.09" y="578.52" width="1.09" height="118.28"/><rect x="102.28" y="562.37" width="1.09" height="134.43"/><rect x="104.47" y="606.63" width="1.09" height="90.17"/><rect x="106.66" y="590.35" width="1.09" height="106.45"/><rect x="108.85" y="573.59" width="1.09" height="123.21"/><rect x="111.04" y="582.21" width="1.09" height="114.59"/><rect x="113.23" y="589.28" width="1.09" height="107.52"/><rect x="115.42" y="568.12" width="1.09" height="128.68"/><rect x="117.61" y="592.97" width="1.09" height="103.83"/><rect x="119.8" y="585.07" width="1.09" height="111.73"/><rect x="121.99" y="595.19" width="1.09" height="101.61"/><rect x="124.18" y="601.79" width="1.09" height="95.01"/><rect x="126.37" y="596.61" width="1.09" height="100.19"/><rect x="128.56" y="572.33" width="1.09" height="124.47"/><rect x="130.76" y="585.3" width="1.09" height="111.5"/><rect x="132.95" y="589.41" width="1.09" height="107.39"/><rect x="135.14" y="561.55" width="1.09" height="135.25"/><rect x="137.33" y="584.67" width="1.09" height="112.13"/><rect x="139.52" y="565.05" width="1.09" height="131.75"/><rect x="141.71" y="597.56" width="1.09" height="99.24"/><rect x="143.9" y="597.87" width="1.09" height="98.93"/><rect x="146.09" y="594.03" width="1.09" height="102.77"/><rect x="148.28" y="595.53" width="1.09" height="101.27"/><rect x="150.47" y="567.57" width="1.09" height="129.23"/><rect x="152.66" y="581.59" width="1.09" height="115.21"/><rect x="154.85" y="581.59" width="1.09" height="115.21"/><rect x="157.04" y="594.89" width="1.09" height="101.91"/><rect x="159.23" y="598.29" width="1.09" height="98.51"/><rect x="161.42" y="565.05" width="1.09" height="131.75"/><rect x="163.61" y="566.58" width="1.09" height="130.22"/><rect x="165.8" y="583.83" width="1.09" height="112.97"/><rect x="167.99" y="600.16" width="1.09" height="96.64"/><rect x="170.18" y="603.76" width="1.09" height="93.04"/><rect x="172.38" y="570.64" width="1.09" height="126.16"/><rect x="174.57" y="579.51" width="1.09" height="117.29"/><rect x="176.76" y="583.56" width="1.09" height="113.24"/><rect x="178.95" y="572.69" width="1.09" height="124.11"/><rect x="181.14" y="574.69" width="1.09" height="122.11"/><rect x="183.33" y="571.4" width="1.09" height="125.4"/><rect x="185.52" y="563.74" width="1.09" height="133.06"/><rect x="187.71" y="565.93" width="1.09" height="130.87"/><rect x="189.9" y="574.69" width="1.09" height="122.11"/><rect x="192.09" y="581.26" width="1.09" height="115.54"/><rect x="194.28" y="557.16" width="1.09" height="139.64"/><rect x="196.47" y="567.02" width="1.09" height="129.78"/><rect x="198.66" y="569.21" width="1.09" height="127.59"/><rect x="200.85" y="564.28" width="1.09" height="132.52"/><rect x="203.04" y="570.31" width="1.09" height="126.49"/><rect x="205.23" y="565.93" width="1.09" height="130.87"/><rect x="207.42" y="548.4" width="1.09" height="148.4"/><rect x="209.61" y="575.78" width="1.09" height="121.02"/><rect x="211.8" y="560.45" width="1.09" height="136.35"/><rect x="213.99" y="572.94" width="1.09" height="123.86"/><rect x="216.19" y="552.78" width="1.09" height="144.02"/><rect x="218.38" y="560.45" width="1.09" height="136.35"/><rect x="220.57" y="552.78" width="1.09" height="144.02"/><rect x="222.76" y="559.35" width="1.09" height="137.45"/><rect x="224.95" y="552.02" width="1.09" height="144.78"/><rect x="227.14" y="560.78" width="1.09" height="136.02"/><rect x="229.33" y="534.71" width="1.09" height="162.09"/><rect x="231.52" y="559.35" width="1.09" height="137.45"/><rect x="233.71" y="552.02" width="1.09" height="144.78"/><rect x="235.9" y="524.31" width="1.09" height="172.49"/><rect x="238.09" y="524.31" width="1.09" height="172.49"/><rect x="240.28" y="533.07" width="1.09" height="163.73"/><rect x="242.47" y="527.59" width="1.09" height="169.21"/><rect x="244.66" y="525.95" width="1.09" height="170.85"/><rect x="246.85" y="524.31" width="1.09" height="172.49"/><rect x="249.04" y="505.69" width="1.09" height="191.11"/><rect x="251.23" y="524.31" width="1.09" height="172.49"/><rect x="253.42" y="507.11" width="1.09" height="189.69"/><rect x="255.61" y="522.12" width="1.09" height="174.68"/><rect x="257.8" y="508.43" width="1.09" height="188.37"/><rect x="260" y="503.5" width="1.09" height="193.3"/><rect x="262.19" y="458.6" width="1.09" height="238.2"/><rect x="264.38" y="493.64" width="1.09" height="203.16"/><rect x="266.57" y="476.12" width="1.09" height="220.68"/><rect x="268.76" y="465.5" width="1.09" height="231.3"/><rect x="270.95" y="453.34" width="1.09" height="243.46"/><rect x="273.14" y="453.34" width="1.09" height="243.46"/><rect x="275.33" y="503.5" width="1.09" height="193.3"/><rect x="277.52" y="487.07" width="1.09" height="209.73"/><rect x="279.71" y="538" width="1.09" height="158.8"/><rect x="281.9" y="546.21" width="1.09" height="150.59"/><rect x="284.09" y="515.98" width="1.09" height="180.82"/><rect x="286.28" y="515.98" width="1.09" height="180.82"/><rect x="288.47" y="462.21" width="1.09" height="234.59"/><rect x="290.66" y="464.95" width="1.09" height="231.85"/><rect x="292.85" y="470.32" width="1.09" height="226.48"/><rect x="295.04" y="470.64" width="1.09" height="226.16"/><rect x="297.23" y="472.18" width="1.09" height="224.62"/><rect x="299.42" y="473.93" width="1.09" height="222.87"/><rect x="301.61" y="509.74" width="1.09" height="187.06"/><rect x="303.8" y="492.55" width="1.09" height="204.25"/><rect x="306" y="517.08" width="1.09" height="179.72"/><rect x="308.19" y="507.11" width="1.09" height="189.69"/><rect x="310.38" y="513.9" width="1.09" height="182.9"/><rect x="312.57" y="543.36" width="1.09" height="153.44"/><rect x="314.76" y="506.35" width="1.09" height="190.45"/><rect x="316.95" y="531.32" width="1.09" height="165.48"/><rect x="319.14" y="547.31" width="1.09" height="149.49"/><rect x="321.33" y="542.05" width="1.09" height="154.75"/><rect x="323.52" y="518.83" width="1.09" height="177.97"/><rect x="325.71" y="563.74" width="1.09" height="133.06"/><rect x="327.9" y="546.65" width="1.09" height="150.15"/><rect x="330.09" y="559.35" width="1.09" height="137.45"/><rect x="332.28" y="532.63" width="1.09" height="164.17"/><rect x="334.47" y="560.78" width="1.09" height="136.02"/><rect x="336.66" y="567.57" width="1.09" height="129.23"/><rect x="338.85" y="578.3" width="1.09" height="118.5"/><rect x="341.04" y="557.16" width="1.09" height="139.64"/><rect x="343.23" y="534.17" width="1.09" height="162.63"/><rect x="345.42" y="552.02" width="1.09" height="144.78"/><rect x="347.61" y="547.31" width="1.09" height="149.49"/><rect x="349.81" y="556.29" width="1.09" height="140.51"/><rect x="352" y="557.16" width="1.09" height="139.64"/><rect x="354.19" y="560.45" width="1.09" height="136.35"/><rect x="356.38" y="551.69" width="1.09" height="145.11"/><rect x="358.57" y="581.26" width="1.09" height="115.54"/><rect x="360.76" y="588.93" width="1.09" height="107.87"/><rect x="362.95" y="592.21" width="1.09" height="104.59"/><rect x="365.14" y="576.55" width="1.09" height="120.25"/><rect x="367.33" y="565.6" width="1.09" height="131.2"/><rect x="369.52" y="575.56" width="1.09" height="121.24"/><rect x="371.71" y="570.53" width="1.09" height="126.27"/><rect x="373.9" y="609.73" width="1.09" height="87.07"/><rect x="376.09" y="584.11" width="1.09" height="112.69"/><rect x="378.28" y="582.35" width="1.09" height="114.45"/><rect x="380.47" y="576.55" width="1.09" height="120.25"/><rect x="382.66" y="565.05" width="1.09" height="131.75"/><rect x="384.85" y="574.03" width="1.09" height="122.77"/><rect x="387.04" y="553.22" width="1.09" height="143.58"/><rect x="389.23" y="607" width="1.09" height="89.8"/><rect x="391.42" y="603.16" width="1.09" height="93.64"/><rect x="393.62" y="592.61" width="1.09" height="104.19"/><rect x="395.81" y="611.97" width="1.09" height="84.83"/><rect x="398" y="573.59" width="1.09" height="123.21"/><rect x="400.19" y="585.27" width="1.09" height="111.53"/><rect x="402.38" y="598.54" width="1.09" height="98.26"/><rect x="404.57" y="591.34" width="1.09" height="105.46"/><rect x="406.76" y="608.78" width="1.09" height="88.02"/><rect x="408.95" y="622.71" width="1.09" height="74.09"/><rect x="411.14" y="596.75" width="1.09" height="100.05"/><rect x="413.33" y="576" width="1.09" height="120.8"/><rect x="415.52" y="584.54" width="1.09" height="112.26"/><rect x="417.71" y="596.88" width="1.09" height="99.92"/><rect x="419.9" y="599.25" width="1.09" height="97.55"/><rect x="422.09" y="578.31" width="1.09" height="118.49"/><rect x="424.28" y="579.94" width="1.09" height="116.86"/><rect x="426.47" y="579.51" width="1.09" height="117.29"/><rect x="428.66" y="569.54" width="1.09" height="127.26"/><rect x="430.85" y="571.07" width="1.09" height="125.73"/><rect x="433.04" y="575.56" width="1.09" height="121.24"/><rect x="435.23" y="604.71" width="1.09" height="92.09"/><rect x="437.43" y="592.04" width="1.09" height="104.76"/><rect x="439.62" y="583.05" width="1.09" height="113.75"/><rect x="441.81" y="604.26" width="1.09" height="92.54"/><rect x="444" y="560.56" width="1.09" height="136.24"/><rect x="446.19" y="581.93" width="1.09" height="114.87"/><rect x="448.38" y="580.76" width="1.09" height="116.04"/><rect x="450.57" y="579.01" width="1.09" height="117.79"/><rect x="452.76" y="610.4" width="1.09" height="86.4"/><rect x="454.95" y="605.18" width="1.09" height="91.62"/><rect x="457.14" y="589.77" width="1.09" height="107.03"/><rect x="459.33" y="616.44" width="1.09" height="80.36"/><rect x="461.52" y="580.73" width="1.09" height="116.07"/><rect x="463.71" y="580.6" width="1.09" height="116.2"/><rect x="465.9" y="574.03" width="1.09" height="122.77"/><rect x="468.09" y="588.62" width="1.09" height="108.18"/><rect x="470.28" y="618.69" width="1.09" height="78.11"/><rect x="472.47" y="552.78" width="1.09" height="144.02"/><rect x="474.66" y="600.97" width="1.09" height="95.83"/><rect x="476.85" y="586.09" width="1.09" height="110.71"/><rect x="479.04" y="576.88" width="1.09" height="119.92"/><rect x="481.24" y="585.71" width="1.09" height="111.09"/><rect x="483.43" y="612.42" width="1.09" height="84.38"/><rect x="485.62" y="622.09" width="1.09" height="74.71"/><rect x="487.81" y="598.6" width="1.09" height="98.2"/><rect x="490" y="590.02" width="1.09" height="106.78"/><rect x="492.19" y="581.34" width="1.09" height="115.46"/><rect x="494.38" y="589.89" width="1.09" height="106.91"/><rect x="496.57" y="601.43" width="1.09" height="95.37"/><rect x="498.76" y="606.67" width="1.09" height="90.13"/></g>
<path d="M62.3 696.8V577.59H64.49V563.51H66.68V585.8H68.87V590.01H71.06V593.11H73.25V601.52H75.44V587.18H77.63V589.11H79.82V590.18H82.01V561.54H84.2V596.27H86.4V584.36H88.59V594.31H90.78V590.38H92.97V590.94H95.16V591.64H97.35V593.95H99.54V606.99H101.73V561.54H103.92V600.97H106.11V582.42H108.3V584.87H110.49V592.67H112.68V589.61H114.87V592.21H117.06V599.38H119.25V593.06H121.44V589.7H123.63V588.87H125.82V603.11H128.01V565.05H130.21V580.39H132.4V584.21H134.59V584.02H136.78V586.66H138.97V590.64H141.16V592.75H143.35V587.86H145.54V584.65H147.73V581.64H149.92V591.62H152.11V594.69H154.3V592.06H156.49V592.58H158.68V596.39H160.87V591.8H163.06V592.94H165.25V583.38H167.44V590.13H169.63V590.51H171.82V568.55H174.02V589.57H176.21V589.95H178.4V582.55H180.59V590.89H182.78V592.54H184.97V582.07H187.16V585.3H189.35V596.24H191.54V591.17H193.73V587.6H195.92V590.85H198.11V598.96H200.3V589.34H202.49V590.71H204.68V592.49H206.87V592.29H209.06V576.99H211.25V598.39H213.44V572.49H215.63V594.6H217.83V602.84H220.02V597.55H222.21V594.81H224.4V593.26H226.59V602.32H228.78V592.01H230.97V592.26H233.16V597.76H235.35V586.47H237.54V598.21H239.73V598.34H241.92V576.55H244.11V599.14H246.3V594.79H248.49V597.54H250.68V602.62H252.87V586.41H255.06V591.39H257.25V585.2H259.44V612.08H261.64V599.43H263.83V599.06H266.02V598.95H268.21V604.02H270.4V602.98H272.59V560.45H274.78V593.88H276.97V580.44H279.16V583.54H281.35V583.81H283.54V573.75H285.73V617.95H287.92V585.49H290.11V578.68H292.3V576.48H294.49V582.85H296.68V577.85H298.87V581.03H301.06V579.95H303.25V582.07H305.45V571.95H307.64V562.09H309.83V569.1H312.02V575.23H314.21V593.5H316.4V600.62H318.59V589.4H320.78V592.14H322.97V598.65H325.16V596.87H327.35V596.69H329.54V599.08H331.73V606.6H333.92V600.41H336.11V567.02H338.3V575.23H340.49V600.59H342.68V590.56H344.87V610.08H347.06V598.77H349.26V611.17H351.45V603.6H353.64V605.33H355.83V584.42H358.02V595.99H360.21V593.28H362.4V582.75H364.59V586.63H366.78V587.99H368.97V588.06H371.16V592.44H373.35V609.18H375.54V593.13H377.73V556.94H379.92V594.76H382.11V593.65H384.3V585.18H386.49V590.07H388.68V598.76H390.87V601.52H393.07V588.34H395.26V600.14H397.45V594.42H399.64V601.8H401.83V596.37H404.02V591.44H406.21V597.85H408.4V594.3H410.59V597.04H412.78V592.03H414.97V605.9H417.16V589.71H419.35V600.9H421.54V571.95H423.73V592.06H425.92V589.47H428.11V595.94H430.3V592.48H432.49V583.21H434.68V581.96H436.88V590.4H439.07V576.33H441.26V603.71H443.45V593.23H445.64V582.23H447.83V579.93H450.02V587.12H452.21V590.62H454.4V589.9H456.59V591.15H458.78V599.42H460.97V595.47H463.16V615.76H465.35V593.1H467.54V576.55H469.73V589.74H471.92V589.55H474.11V599.33H476.3V586.11H478.49V584.91H480.69V575.45H482.88V606.54H485.07V603.49H487.26V589.74H489.45V576.55H491.64V596.47H493.83V585.34H496.02V595.57H498.21V587.42H500.4V696.8Z" fill="#5e87b8"/><g fill="#add1f8"><rect x="62.85" y="578.14" width="1.09" height="118.66"/><rect x="65.04" y="564.06" width="1.09" height="132.74"/><rect x="67.23" y="586.35" width="1.09" height="110.45"/><rect x="69.42" y="590.56" width="1.09" height="106.24"/><rect x="71.61" y="593.66" width="1.09" height="103.14"/><rect x="73.8" y="602.07" width="1.09" height="94.73"/><rect x="75.99" y="587.73" width="1.09" height="109.07"/><rect x="78.18" y="589.66" width="1.09" height="107.14"/><rect x="80.37" y="590.73" width="1.09" height="106.07"/><rect x="82.56" y="562.09" width="1.09" height="134.71"/><rect x="84.75" y="596.82" width="1.09" height="99.98"/><rect x="86.95" y="584.91" width="1.09" height="111.89"/><rect x="89.14" y="594.86" width="1.09" height="101.94"/><rect x="91.33" y="590.93" width="1.09" height="105.87"/><rect x="93.52" y="591.49" width="1.09" height="105.31"/><rect x="95.71" y="592.19" width="1.09" height="104.61"/><rect x="97.9" y="594.5" width="1.09" height="102.3"/><rect x="100.09" y="607.54" width="1.09" height="89.26"/><rect x="102.28" y="562.09" width="1.09" height="134.71"/><rect x="104.47" y="601.52" width="1.09" height="95.28"/><rect x="106.66" y="582.97" width="1.09" height="113.83"/><rect x="108.85" y="585.42" width="1.09" height="111.38"/><rect x="111.04" y="593.22" width="1.09" height="103.58"/><rect x="113.23" y="590.16" width="1.09" height="106.64"/><rect x="115.42" y="592.76" width="1.09" height="104.04"/><rect x="117.61" y="599.93" width="1.09" height="96.87"/><rect x="119.8" y="593.61" width="1.09" height="103.19"/><rect x="121.99" y="590.25" width="1.09" height="106.55"/><rect x="124.18" y="589.42" width="1.09" height="107.38"/><rect x="126.37" y="603.66" width="1.09" height="93.14"/><rect x="128.56" y="565.6" width="1.09" height="131.2"/><rect x="130.76" y="580.94" width="1.09" height="115.86"/><rect x="132.95" y="584.76" width="1.09" height="112.04"/><rect x="135.14" y="584.57" width="1.09" height="112.23"/><rect x="137.33" y="587.21" width="1.09" height="109.59"/><rect x="139.52" y="591.19" width="1.09" height="105.61"/><rect x="141.71" y="593.3" width="1.09" height="103.5"/><rect x="143.9" y="588.41" width="1.09" height="108.39"/><rect x="146.09" y="585.2" width="1.09" height="111.6"/><rect x="148.28" y="582.19" width="1.09" height="114.61"/><rect x="150.47" y="592.17" width="1.09" height="104.63"/><rect x="152.66" y="595.24" width="1.09" height="101.56"/><rect x="154.85" y="592.61" width="1.09" height="104.19"/><rect x="157.04" y="593.13" width="1.09" height="103.67"/><rect x="159.23" y="596.94" width="1.09" height="99.86"/><rect x="161.42" y="592.35" width="1.09" height="104.45"/><rect x="163.61" y="593.49" width="1.09" height="103.31"/><rect x="165.8" y="583.93" width="1.09" height="112.87"/><rect x="167.99" y="590.68" width="1.09" height="106.12"/><rect x="170.18" y="591.06" width="1.09" height="105.74"/><rect x="172.38" y="569.1" width="1.09" height="127.7"/><rect x="174.57" y="590.12" width="1.09" height="106.68"/><rect x="176.76" y="590.5" width="1.09" height="106.3"/><rect x="178.95" y="583.1" width="1.09" height="113.7"/><rect x="181.14" y="591.44" width="1.09" height="105.36"/><rect x="183.33" y="593.09" width="1.09" height="103.71"/><rect x="185.52" y="582.62" width="1.09" height="114.18"/><rect x="187.71" y="585.85" width="1.09" height="110.95"/><rect x="189.9" y="596.79" width="1.09" height="100.01"/><rect x="192.09" y="591.72" width="1.09" height="105.08"/><rect x="194.28" y="588.15" width="1.09" height="108.65"/><rect x="196.47" y="591.4" width="1.09" height="105.4"/><rect x="198.66" y="599.51" width="1.09" height="97.29"/><rect x="200.85" y="589.89" width="1.09" height="106.91"/><rect x="203.04" y="591.26" width="1.09" height="105.54"/><rect x="205.23" y="593.04" width="1.09" height="103.76"/><rect x="207.42" y="592.84" width="1.09" height="103.96"/><rect x="209.61" y="577.54" width="1.09" height="119.26"/><rect x="211.8" y="598.94" width="1.09" height="97.86"/><rect x="213.99" y="573.04" width="1.09" height="123.76"/><rect x="216.19" y="595.15" width="1.09" height="101.65"/><rect x="218.38" y="603.39" width="1.09" height="93.41"/><rect x="220.57" y="598.1" width="1.09" height="98.7"/><rect x="222.76" y="595.36" width="1.09" height="101.44"/><rect x="224.95" y="593.81" width="1.09" height="102.99"/><rect x="227.14" y="602.87" width="1.09" height="93.93"/><rect x="229.33" y="592.56" width="1.09" height="104.24"/><rect x="231.52" y="592.81" width="1.09" height="103.99"/><rect x="233.71" y="598.31" width="1.09" height="98.49"/><rect x="235.9" y="587.02" width="1.09" height="109.78"/><rect x="238.09" y="598.76" width="1.09" height="98.04"/><rect x="240.28" y="598.89" width="1.09" height="97.91"/><rect x="242.47" y="577.1" width="1.09" height="119.7"/><rect x="244.66" y="599.69" width="1.09" height="97.11"/><rect x="246.85" y="595.34" width="1.09" height="101.46"/><rect x="249.04" y="598.09" width="1.09" height="98.71"/><rect x="251.23" y="603.17" width="1.09" height="93.63"/><rect x="253.42" y="586.96" width="1.09" height="109.84"/><rect x="255.61" y="591.94" width="1.09" height="104.86"/><rect x="257.8" y="585.75" width="1.09" height="111.05"/><rect x="260" y="612.63" width="1.09" height="84.17"/><rect x="262.19" y="599.98" width="1.09" height="96.82"/><rect x="264.38" y="599.61" width="1.09" height="97.19"/><rect x="266.57" y="599.5" width="1.09" height="97.3"/><rect x="268.76" y="604.57" width="1.09" height="92.23"/><rect x="270.95" y="603.53" width="1.09" height="93.27"/><rect x="273.14" y="561" width="1.09" height="135.8"/><rect x="275.33" y="594.43" width="1.09" height="102.37"/><rect x="277.52" y="580.99" width="1.09" height="115.81"/><rect x="279.71" y="584.09" width="1.09" height="112.71"/><rect x="281.9" y="584.36" width="1.09" height="112.44"/><rect x="284.09" y="574.3" width="1.09" height="122.5"/><rect x="286.28" y="618.5" width="1.09" height="78.3"/><rect x="288.47" y="586.04" width="1.09" height="110.76"/><rect x="290.66" y="579.23" width="1.09" height="117.57"/><rect x="292.85" y="577.03" width="1.09" height="119.77"/><rect x="295.04" y="583.4" width="1.09" height="113.4"/><rect x="297.23" y="578.4" width="1.09" height="118.4"/><rect x="299.42" y="581.58" width="1.09" height="115.22"/><rect x="301.61" y="580.5" width="1.09" height="116.3"/><rect x="303.8" y="582.62" width="1.09" height="114.18"/><rect x="306" y="572.5" width="1.09" height="124.3"/><rect x="308.19" y="562.64" width="1.09" height="134.16"/><rect x="310.38" y="569.65" width="1.09" height="127.15"/><rect x="312.57" y="575.78" width="1.09" height="121.02"/><rect x="314.76" y="594.05" width="1.09" height="102.75"/><rect x="316.95" y="601.17" width="1.09" height="95.63"/><rect x="319.14" y="589.95" width="1.09" height="106.85"/><rect x="321.33" y="592.69" width="1.09" height="104.11"/><rect x="323.52" y="599.2" width="1.09" height="97.6"/><rect x="325.71" y="597.42" width="1.09" height="99.38"/><rect x="327.9" y="597.24" width="1.09" height="99.56"/><rect x="330.09" y="599.63" width="1.09" height="97.17"/><rect x="332.28" y="607.15" width="1.09" height="89.65"/><rect x="334.47" y="600.96" width="1.09" height="95.84"/><rect x="336.66" y="567.57" width="1.09" height="129.23"/><rect x="338.85" y="575.78" width="1.09" height="121.02"/><rect x="341.04" y="601.14" width="1.09" height="95.66"/><rect x="343.23" y="591.11" width="1.09" height="105.69"/><rect x="345.42" y="610.63" width="1.09" height="86.17"/><rect x="347.61" y="599.32" width="1.09" height="97.48"/><rect x="349.81" y="611.72" width="1.09" height="85.08"/><rect x="352" y="604.15" width="1.09" height="92.65"/><rect x="354.19" y="605.88" width="1.09" height="90.92"/><rect x="356.38" y="584.97" width="1.09" height="111.83"/><rect x="358.57" y="596.54" width="1.09" height="100.26"/><rect x="360.76" y="593.83" width="1.09" height="102.97"/><rect x="362.95" y="583.3" width="1.09" height="113.5"/><rect x="365.14" y="587.18" width="1.09" height="109.62"/><rect x="367.33" y="588.54" width="1.09" height="108.26"/><rect x="369.52" y="588.61" width="1.09" height="108.19"/><rect x="371.71" y="592.99" width="1.09" height="103.81"/><rect x="373.9" y="609.73" width="1.09" height="87.07"/><rect x="376.09" y="593.68" width="1.09" height="103.12"/><rect x="378.28" y="557.49" width="1.09" height="139.31"/><rect x="380.47" y="595.31" width="1.09" height="101.49"/><rect x="382.66" y="594.2" width="1.09" height="102.6"/><rect x="384.85" y="585.73" width="1.09" height="111.07"/><rect x="387.04" y="590.62" width="1.09" height="106.18"/><rect x="389.23" y="599.31" width="1.09" height="97.49"/><rect x="391.42" y="602.07" width="1.09" height="94.73"/><rect x="393.62" y="588.89" width="1.09" height="107.91"/><rect x="395.81" y="600.69" width="1.09" height="96.11"/><rect x="398" y="594.97" width="1.09" height="101.83"/><rect x="400.19" y="602.35" width="1.09" height="94.45"/><rect x="402.38" y="596.92" width="1.09" height="99.88"/><rect x="404.57" y="591.99" width="1.09" height="104.81"/><rect x="406.76" y="598.4" width="1.09" height="98.4"/><rect x="408.95" y="594.85" width="1.09" height="101.95"/><rect x="411.14" y="597.59" width="1.09" height="99.21"/><rect x="413.33" y="592.58" width="1.09" height="104.22"/><rect x="415.52" y="606.45" width="1.09" height="90.35"/><rect x="417.71" y="590.26" width="1.09" height="106.54"/><rect x="419.9" y="601.45" width="1.09" height="95.35"/><rect x="422.09" y="572.5" width="1.09" height="124.3"/><rect x="424.28" y="592.61" width="1.09" height="104.19"/><rect x="426.47" y="590.02" width="1.09" height="106.78"/><rect x="428.66" y="596.49" width="1.09" height="100.31"/><rect x="430.85" y="593.03" width="1.09" height="103.77"/><rect x="433.04" y="583.76" width="1.09" height="113.04"/><rect x="435.23" y="582.51" width="1.09" height="114.29"/><rect x="437.43" y="590.95" width="1.09" height="105.85"/><rect x="439.62" y="576.88" width="1.09" height="119.92"/><rect x="441.81" y="604.26" width="1.09" height="92.54"/><rect x="444" y="593.78" width="1.09" height="103.02"/><rect x="446.19" y="582.78" width="1.09" height="114.02"/><rect x="448.38" y="580.48" width="1.09" height="116.32"/><rect x="450.57" y="587.67" width="1.09" height="109.13"/><rect x="452.76" y="591.17" width="1.09" height="105.63"/><rect x="454.95" y="590.45" width="1.09" height="106.35"/><rect x="457.14" y="591.7" width="1.09" height="105.1"/><rect x="459.33" y="599.97" width="1.09" height="96.83"/><rect x="461.52" y="596.02" width="1.09" height="100.78"/><rect x="463.71" y="616.31" width="1.09" height="80.49"/><rect x="465.9" y="593.65" width="1.09" height="103.15"/><rect x="468.09" y="577.1" width="1.09" height="119.7"/><rect x="470.28" y="590.29" width="1.09" height="106.51"/><rect x="472.47" y="590.1" width="1.09" height="106.7"/><rect x="474.66" y="599.88" width="1.09" height="96.92"/><rect x="476.85" y="586.66" width="1.09" height="110.14"/><rect x="479.04" y="585.46" width="1.09" height="111.34"/><rect x="481.24" y="576" width="1.09" height="120.8"/><rect x="483.43" y="607.09" width="1.09" height="89.71"/><rect x="485.62" y="604.04" width="1.09" height="92.76"/><rect x="487.81" y="590.29" width="1.09" height="106.51"/><rect x="490" y="577.1" width="1.09" height="119.7"/><rect x="492.19" y="597.02" width="1.09" height="99.78"/><rect x="494.38" y="585.89" width="1.09" height="110.91"/><rect x="496.57" y="596.12" width="1.09" height="100.68"/><rect x="498.76" y="587.97" width="1.09" height="108.83"/></g>
<polyline points="63.4,599 65.59,583.01 67.78,584.98 69.97,583.56 72.16,581.48 74.35,599.98 76.54,591.55 78.73,589.03 80.92,581.04 83.11,577.53 85.3,573.48 87.49,577.97 89.68,599.98 91.87,573.04 94.06,584.54 96.25,573.04 98.44,583.99 100.63,583.01 102.82,589.03 105.01,588.05 107.21,592.98 109.4,572.06 111.59,599.98 113.78,583.56 115.97,593.96 118.16,597.03 120.35,601.52 122.54,574.03 124.73,577.97 126.92,590.02 129.11,573.48 131.3,580.05 133.49,575.45 135.68,585.53 137.87,590.57 140.06,581.48 142.25,594.95 144.44,589.03 146.63,597.47 148.82,585.97 151.02,592.98 153.21,590.02 155.4,601.96 157.59,567.57 159.78,591.99 161.97,581.48 164.16,586.95 166.35,597.03 168.54,580.49 170.73,575.45 172.92,588.05 175.11,594.95 177.3,598.01 179.49,578.52 181.68,583.99 183.87,582.02 186.06,583.99 188.25,584.54 190.44,597.03 192.63,582.02 194.83,573.04 197.02,581.04 199.21,582.02 201.4,599 203.59,570.96 205.78,590.02 207.97,591.55 210.16,591.99 212.35,588.38 214.54,583.99 216.73,599.98 218.92,585.97 221.11,590.02 223.3,583.01 225.49,570.52 227.68,586.95 229.87,568.55 232.06,581.48 234.25,593.52 236.44,585.97 238.64,582.02 240.83,580.16 243.02,578.52 245.21,585.97 247.4,593.52 249.59,568.99 251.78,575.01 253.97,583.01 256.16,591.99 258.35,599 260.54,595.49 262.73,600.97 264.92,580.05 267.11,591.99 269.3,583.99 271.49,580.49 273.68,578.96 275.87,591.99 278.06,576.55 280.25,584.98 282.45,583.56 284.64,581.04 286.83,585.97 289.02,590.02 291.21,591 293.4,593.52 295.59,592.54 297.78,585.97 299.97,583.01 302.16,576 304.35,584.98 306.54,576.55 308.73,566.03 310.92,575.01 313.11,576 315.3,583.99 317.49,591.99 319.68,575.01 321.87,581.48 324.06,583.99 326.26,582.02 328.45,591.99 330.64,591.99 332.83,599 335.02,569.54 337.21,588.05 339.4,575.01 341.59,594.95 343.78,601.96 345.97,577.97 348.16,593.96 350.35,581.04 352.54,570.96 354.73,594.95 356.92,583.99 359.11,576 361.3,583.99 363.49,588.05 365.68,591.99 367.87,590.02 370.07,589.03 372.26,580.49 374.45,606.99 376.64,594.95 378.83,593.52 381.02,592.54 383.21,586.95 385.4,588.48 387.59,600.97 389.78,576 391.97,578.96 394.16,579.5 396.35,602.94 398.54,580.05 400.73,578.96 402.92,589.03 405.11,564.5 407.3,576 409.49,585.97 411.68,576 413.88,583.01 416.07,584.98 418.26,600.97 420.45,582.02 422.64,585.97 424.83,597.03 427.02,601.96 429.21,592.98 431.4,582.02 433.59,591.99 435.78,575.01 437.97,564.5 440.16,582.02 442.35,588.05 444.54,597.03 446.73,575.01 448.92,583.99 451.11,585.97 453.3,593.96 455.49,567.02 457.69,583.01 459.88,589.03 462.07,577.53 464.26,588.05 466.45,585.97 468.64,584.98 470.83,583.56 473.02,573.48 475.21,577.53 477.4,573.48 479.59,591.99 481.78,583.01 483.97,604.04 486.16,590.02 488.35,582.02 490.54,589.03 492.73,593.96 494.92,586.95 497.11,601.96 499.3,583.99" fill="none" stroke="#15151f" stroke-width="1.2" stroke-linejoin="round"/>
<line x1="281.4" y1="440" x2="281.4" y2="696" stroke="#fff" stroke-width="1.5"/>
<line x1="281.4" y1="434.6" x2="281.4" y2="715.5" stroke="#0a0a0a" stroke-width="1.6" stroke-dasharray="2.2 2.53"/>
<path d="M62.3 422.5V696.8H503.2" fill="none" stroke="#2b2b2b" stroke-width="1.4"/>
<path d="M62.3 642.04h-4M62.3 587.28h-4M62.3 532.52h-4M62.3 477.76h-4M62.3 423h-4M62.3 696.8v5.0M73.25 696.8v3.6M84.2 696.8v3.6M95.16 696.8v3.6M106.11 696.8v3.6M117.06 696.8v5.0M128.01 696.8v3.6M138.97 696.8v3.6M149.92 696.8v3.6M160.87 696.8v3.6M171.82 696.8v5.0M182.78 696.8v3.6M193.73 696.8v3.6M204.68 696.8v3.6M215.63 696.8v3.6M226.59 696.8v5.0M237.54 696.8v3.6M248.49 696.8v3.6M259.44 696.8v3.6M270.4 696.8v3.6M281.35 696.8v5.0M292.3 696.8v3.6M303.25 696.8v3.6M314.21 696.8v3.6M325.16 696.8v3.6M336.11 696.8v5.0M347.06 696.8v3.6M358.02 696.8v3.6M368.97 696.8v3.6M379.92 696.8v3.6M390.87 696.8v5.0M401.83 696.8v3.6M412.78 696.8v3.6M423.73 696.8v3.6M434.69 696.8v3.6M445.64 696.8v5.0M456.59 696.8v3.6M467.54 696.8v3.6M478.5 696.8v3.6M489.45 696.8v3.6M500.4 696.8v5.0" stroke="#2b2b2b" stroke-width="1.3" fill="none"/>
<text x="54.9" y="647.34" font-size="13.3" text-anchor="end" fill="#222">0.05</text>
<text x="54.9" y="592.58" font-size="13.3" text-anchor="end" fill="#222">0.10</text>
<text x="54.9" y="537.82" font-size="13.3" text-anchor="end" fill="#222">0.15</text>
<text x="54.9" y="483.06" font-size="13.3" text-anchor="end" fill="#222">0.20</text>
<text x="54.9" y="428.3" font-size="13.3" text-anchor="end" fill="#222">0.25</text>
<text x="60.1" y="717.3" font-size="11.8" text-anchor="middle" fill="#222">-10</text>
<text x="114.6" y="717.3" font-size="11.8" text-anchor="middle" fill="#222">-7.5</text>
<text x="170.5" y="717.3" font-size="11.8" text-anchor="middle" fill="#222">-5</text>
<text x="225.4" y="717.3" font-size="11.8" text-anchor="middle" fill="#222">-2.5</text>
<text x="332.3" y="717.3" font-size="11.8" text-anchor="middle" fill="#222">+2.5</text>
<text x="388" y="717.3" font-size="11.8" text-anchor="middle" fill="#222">+5</text>
<text x="441.85" y="717.3" font-size="11.8" text-anchor="middle" fill="#222">+7.5</text>
<text x="499.7" y="717.3" font-size="11.8" text-anchor="middle" fill="#222">+10</text>
<text x="2.2" y="409.8" font-size="19.4" font-weight="bold" fill="#111">B</text>
<text x="282" y="427.6" font-size="13.9" font-weight="bold" text-anchor="middle" fill="#111">midpoint</text>
<text x="282" y="737" font-size="17" font-weight="bold" text-anchor="middle" fill="#111">distance (kbp)</text>
<text transform="translate(17.4 558.5) rotate(-90)" font-size="16.5" font-weight="bold" text-anchor="middle" fill="#111">CNCs (%)</text>
<line x1="377" y1="423" x2="391" y2="423" stroke="#222" stroke-width="1.1"/>
<rect x="377.5" y="435.7" width="13.8" height="12.4" fill="#cc3b2e" stroke="#2a1212" stroke-width="1.2"/>
<rect x="377.5" y="453.7" width="13.8" height="12.4" fill="#4a7bd0" stroke="#141a38" stroke-width="1.2"/>
<text x="398.4" y="427.4" font-size="11.7" fill="#222">Random (n = 119,288)</text>
<text x="398.4" y="445.4" font-size="11.7" fill="#222">MLV (n = 98,053)</text>
<text x="398.4" y="464" font-size="11.7" fill="#222">HIV (n = 64,695)</text>
</svg>
</body></html>
